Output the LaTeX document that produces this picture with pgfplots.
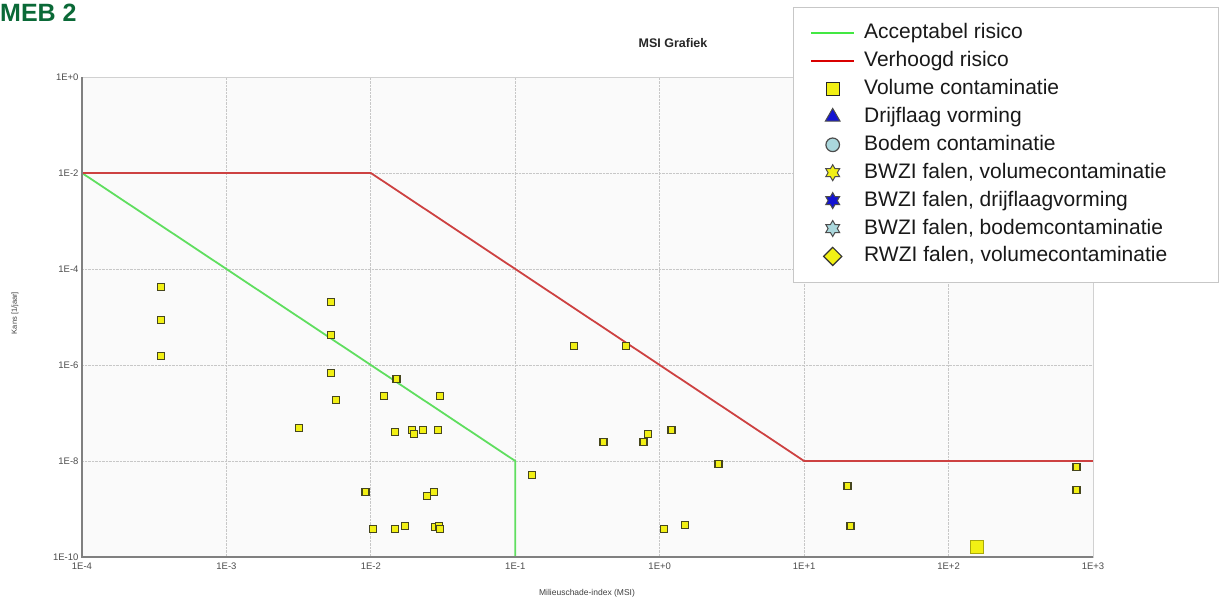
\documentclass[border=0pt]{standalone}
\usepackage{fontspec}
\setmainfont{Liberation Sans}
\usepackage{pgfplots}
\pgfplotsset{compat=1.18}
\definecolor{accgreen}{RGB}{95,222,95}
\definecolor{highred}{RGB}{205,65,65}
\definecolor{mebgreen}{RGB}{10,105,55}
\definecolor{sqfill}{RGB}{242,240,20}
\definecolor{sqdraw}{RGB}{70,70,30}
\definecolor{bodem}{RGB}{170,215,220}
\definecolor{drijf}{RGB}{20,20,210}

\pgfdeclareplotmark{hexagram}{%
 \pgfpathmoveto{\pgfpointpolar{90}{\pgfplotmarksize}}%
 \pgfpathlineto{\pgfpointpolar{120}{0.577\pgfplotmarksize}}%
 \pgfpathlineto{\pgfpointpolar{150}{\pgfplotmarksize}}%
 \pgfpathlineto{\pgfpointpolar{180}{0.577\pgfplotmarksize}}%
 \pgfpathlineto{\pgfpointpolar{210}{\pgfplotmarksize}}%
 \pgfpathlineto{\pgfpointpolar{240}{0.577\pgfplotmarksize}}%
 \pgfpathlineto{\pgfpointpolar{270}{\pgfplotmarksize}}%
 \pgfpathlineto{\pgfpointpolar{300}{0.577\pgfplotmarksize}}%
 \pgfpathlineto{\pgfpointpolar{330}{\pgfplotmarksize}}%
 \pgfpathlineto{\pgfpointpolar{0}{0.577\pgfplotmarksize}}%
 \pgfpathlineto{\pgfpointpolar{30}{\pgfplotmarksize}}%
 \pgfpathlineto{\pgfpointpolar{60}{0.577\pgfplotmarksize}}%
 \pgfpathclose
 \pgfusepathqfillstroke}

\begin{document}
\begin{tikzpicture}[x=1pt,y=1pt]
\useasboundingbox (0,0) rectangle (1221,598);
\node[anchor=base west, inner sep=0pt, text=mebgreen, font=\fontsize{25}{28}\selectfont\bfseries] at (0,576) {MEB 2};
\node[font=\fontsize{12.5}{14}\selectfont\bfseries, text=black!85] at (673,555) {MSI Grafiek};
\node[anchor=base, inner sep=0pt, font=\fontsize{8.5}{10}\selectfont, text=black!75] at (587,3) {Milieuschade-index (MSI)};
\node[rotate=90, inner sep=0pt, font=\fontsize{7.5}{9}\selectfont, text=black!75] at (15,285) {Kans [1/jaar]};
\begin{axis}[
 at={(82pt,41pt)}, anchor=south west,
 width=1011pt, height=480pt, scale only axis,
 xmode=log, ymode=log,
 xmin=1e-4, xmax=1e3, ymin=1e-10, ymax=1,
 xtick={1e-4,1e-3,1e-2,1e-1,1,10,100,1000},
 xticklabels={1E-4,1E-3,1E-2,1E-1,1E+0,1E+1,1E+2,1E+3},
 ytick={1e-10,1e-8,1e-6,1e-4,1e-2,1},
 yticklabels={1E-10,1E-8,1E-6,1E-4,1E-2,1E+0},
 xminorticks=false, yminorticks=false,
 major tick length=0pt,
 tick label style={font=\fontsize{9.5}{11}\selectfont, text=black!70},
 xticklabel style={yshift=-2pt},
 grid=major,
 major grid style={densely dotted, black!22, line width=0.8pt},
 axis line style={draw=black!18},
 axis background/.style={fill=black!2},
 clip=false,
 legend image code/.code={\draw[mark repeat=2,mark phase=2,#1] plot coordinates {(0pt,0pt) (21.5pt,0pt) (43pt,0pt)};},
 legend style={at={(axis description cs:0.7201,1.1125)}, anchor=north west, draw=none, fill=none,
   font=\fontsize{21}{25}\selectfont, text=black!90, row sep=7.9pt, column sep=9pt, inner sep=0pt,
   nodes={inner sep=0pt, text height=15.5pt, text depth=4.5pt}},
 legend cell align=left,
]
\addplot[accgreen, line width=1.8pt, forget plot] coordinates {(1e-4,1e-2) (1e-1,1e-8) (1e-1,1e-10)};
\addplot[highred, line width=1.8pt, forget plot] coordinates {(1e-4,1e-2) (1e-2,1e-2) (10,1e-8) (1000,1e-8)};
\addplot[only marks, mark=square*, mark size=3.5pt, mark options={fill=sqfill, draw=sqdraw, line width=1.4pt}, forget plot] coordinates {
(3.52e-4,4.2e-5) (3.52e-4,8.7e-6) (3.52e-4,1.55e-6)
(5.29e-3,2.05e-5) (5.29e-3,4.2e-6) (5.29e-3,6.8e-7) (5.73e-3,1.87e-7) (3.18e-3,4.9e-8)
(1.51e-2,5.1e-7) (1.23e-2,2.25e-7) (3.0e-2,2.25e-7)
(1.47e-2,4.0e-8) (1.92e-2,4.45e-8) (1.99e-2,3.65e-8) (2.29e-2,4.45e-8) (2.91e-2,4.45e-8)
(9.2e-3,2.25e-9) (2.44e-2,1.87e-9) (2.73e-2,2.25e-9)
(1.03e-2,3.8e-10) (1.47e-2,3.8e-10) (1.72e-2,4.4e-10) (2.77e-2,4.2e-10) (2.96e-2,4.4e-10) (3.0e-2,3.8e-10)
(0.254,2.5e-6) (0.582,2.5e-6) (0.409,2.5e-8) (0.774,2.5e-8) (0.826,3.65e-8) (1.21,4.45e-8)
(0.130,5.1e-9) (2.56,8.7e-9) (1.07,3.8e-10) (1.49,4.6e-10)
(20.0,3.0e-9) (21.0,4.4e-10) (769,7.5e-9) (769,2.5e-9)
};
\addplot[only marks, mark=square*, mark size=6.5pt, mark options={fill=sqfill, draw=sqfill!70!black, line width=0.5pt}, forget plot] coordinates {(156,1.6e-10)};
\draw[black!50, line width=1.3pt] (rel axis cs:0,1) -- (rel axis cs:0,0) -- (rel axis cs:1,0);
\draw[black!22, fill=white, line width=0.8pt] (axis description cs:0.7033,0.5729) rectangle (axis description cs:1.1237,1.1458);
\addlegendimage{color=accgreen!70!green, line width=2pt}
\addlegendentry{Acceptabel risico}
\addlegendimage{color=red!85!black, line width=2pt}
\addlegendentry{Verhoogd risico}
\addlegendimage{only marks, mark=square*, mark size=6.5pt, mark options={fill=sqfill, draw=black!85, line width=1.2pt}}
\addlegendentry{Volume contaminatie}
\addlegendimage{only marks, mark=triangle*, mark size=8.5pt, mark options={fill=drijf, draw=black!70, line width=1pt}}
\addlegendentry{Drijflaag vorming}
\addlegendimage{only marks, mark=*, mark size=6.8pt, mark options={fill=bodem, draw=black!70, line width=1.2pt}}
\addlegendentry{Bodem contaminatie}
\addlegendimage{only marks, mark=hexagram, mark size=8pt, mark options={fill=sqfill, draw=black!70, line width=1pt}}
\addlegendentry{BWZI falen, volumecontaminatie}
\addlegendimage{only marks, mark=hexagram, mark size=8pt, mark options={fill=drijf, draw=black!70, line width=1pt}}
\addlegendentry{BWZI falen, drijflaagvorming}
\addlegendimage{only marks, mark=hexagram, mark size=8pt, mark options={fill=bodem, draw=black!70, line width=1pt}}
\addlegendentry{BWZI falen, bodemcontaminatie}
\addlegendimage{only marks, mark=square*, mark size=6.4pt, mark options={rotate=45, fill=sqfill, draw=black!80, line width=1.2pt}}
\addlegendentry{RWZI falen, volumecontaminatie}
\end{axis}
\end{tikzpicture}
\end{document}
